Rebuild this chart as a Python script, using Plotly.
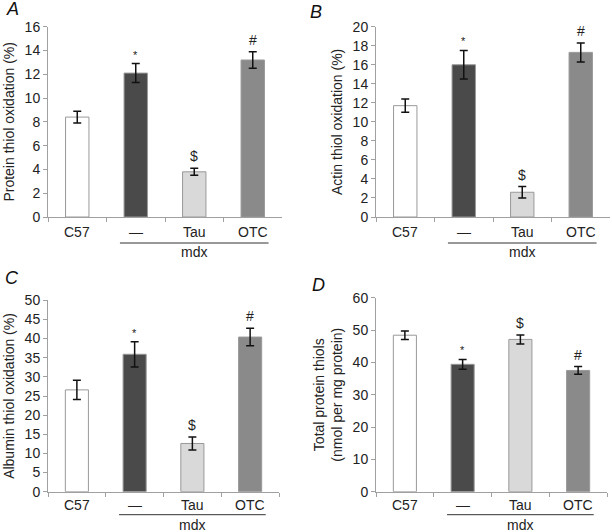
import plotly.graph_objects as go

# Groups and bar styling
categories = ["C57", "—", "Tau", "OTC"]
bar_colors = ["#ffffff", "#4a4a4a", "#d9d9d9", "#8a8a8a"]
sig_marks = ["", "*", "$", "#"]

# Panel A: protein thiol oxidation (%)
protein_ox = [8.4, 12.1, 3.8, 13.2]
protein_ox_err = [0.5, 0.8, 0.3, 0.7]

# Panel B: actin thiol oxidation (%)
actin_ox = [11.7, 16.0, 2.6, 17.3]
actin_ox_err = [0.7, 1.5, 0.6, 1.0]

# Panel C: albumin thiol oxidation (%)
albumin_ox = [26.6, 35.9, 12.6, 40.4]
albumin_ox_err = [2.5, 3.3, 1.7, 2.3]

# Panel D: total protein thiols (nmol per mg protein)
total_thiols = [48.4, 39.4, 47.1, 37.5]
total_thiols_err = [1.3, 1.5, 1.4, 1.2]

W, H = 612, 532
FONT = "Liberation Sans, Arial, sans-serif"
FS = 14

panels = [
    dict(letter="A", vals=protein_ox, err=protein_ox_err, rng=[0, 16], dt=2,
         title="Protein thiol oxidation (%)", x0=48, x1=282, y0=217, y1=26.7,
         lx=12, ly=9, lab=15, line=26, mdx=35),
    dict(letter="B", vals=actin_ox, err=actin_ox_err, rng=[0, 20], dt=2,
         title="Actin thiol oxidation (%)", x0=376, x1=610, y0=217, y1=26.7,
         lx=316, ly=12, lab=15, line=26, mdx=35),
    dict(letter="C", vals=albumin_ox, err=albumin_ox_err, rng=[0, 50], dt=5,
         title="Albumin thiol oxidation (%)", x0=48, x1=279, y0=491.7, y1=300.3,
         lx=12, ly=278, lab=13, line=23, mdx=33),
    dict(letter="D", vals=total_thiols, err=total_thiols_err, rng=[0, 60], dt=10,
         title="Total protein thiols<br>(nmol per mg protein)", x0=376, x1=607,
         y0=491.7, y1=297.7, lx=318, ly=285, lab=13, line=23, mdx=33),
]

fig = go.Figure()
annotations = []
shapes = []

for i, p in enumerate(panels, 1):
    xa = "x" if i == 1 else f"x{i}"
    ya = "y" if i == 1 else f"y{i}"
    fig.add_trace(go.Bar(
        x=categories, y=p["vals"],
        xaxis=xa, yaxis=ya,
        width=0.4,
        marker=dict(color=bar_colors, line=dict(color="#999999", width=1)),
        error_y=dict(type="data", array=p["err"], color="#111111",
                     thickness=1.5, width=4),
        showlegend=False,
    ))

    axis_line = dict(showline=True, linecolor="#a0a0a0", linewidth=1,
                     ticks="outside", tickcolor="#a0a0a0", ticklen=4,
                     showgrid=False, zeroline=False, automargin=False)
    fig.layout[xa.replace("x", "xaxis")] = dict(
        domain=[p["x0"] / W, p["x1"] / W], anchor=ya,
        type="category", tickson="boundaries",
        showticklabels=False,
        range=[-0.5, 3.5], **axis_line)
    fig.layout[ya.replace("y", "yaxis")] = dict(
        domain=[1 - p["y0"] / H, 1 - p["y1"] / H], anchor=xa,
        range=p["rng"], dtick=p["dt"],
        tickfont=dict(size=FS, color="#222222"),
        title=dict(text=p["title"], font=dict(size=FS, color="#222222"),
                   standoff=6),
        **axis_line)

    # category labels under the axis
    for c in categories:
        annotations.append(dict(
            x=c, y=0, xref=xa, yref=ya + " domain", text=c, showarrow=False,
            yanchor="middle", yshift=-p["lab"],
            font=dict(size=FS, color="#222222")))

    # significance marks above error bars
    for c, v, e, m in zip(categories, p["vals"], p["err"], sig_marks):
        if m:
            annotations.append(dict(
                x=c, y=v + e, xref=xa, yref=ya, text=m, showarrow=False,
                yanchor="bottom", yshift=2 if m != "*" else 1,
                font=dict(size=FS if m != "*" else 11, color="#222222")))

    # mdx grouping line and label
    annotations.append(dict(
        x=2, y=0, xref=xa, yref=ya + " domain",
        text="mdx", showarrow=False, yanchor="middle", yshift=-p["mdx"],
        font=dict(size=FS, color="#222222")))
    yl = -p["line"] / (p["y0"] - p["y1"])
    shapes.append(dict(
        type="line", xref=xa, yref=ya + " domain",
        x0=0.73, x1=3.27, y0=yl, y1=yl,
        line=dict(color="#333333", width=1)))

    # panel letter
    annotations.append(dict(
        x=p["lx"] / W, y=1 - p["ly"] / H, xref="paper", yref="paper",
        text=f"<i>{p['letter']}</i>", showarrow=False,
        xanchor="center", yanchor="middle",
        font=dict(size=18, color="#111111")))

fig.update_layout(
    width=W, height=H,
    margin=dict(l=0, r=0, t=0, b=0),
    paper_bgcolor="white", plot_bgcolor="white",
    font=dict(family=FONT, color="#222222"),
    annotations=annotations, shapes=shapes,
    bargap=0.6,
)

# drop the default page margin so the figure sits at the window's corner
fig.write_html("out.html", config={"displayModeBar": False},
               post_script="document.body.style.margin='0';")
